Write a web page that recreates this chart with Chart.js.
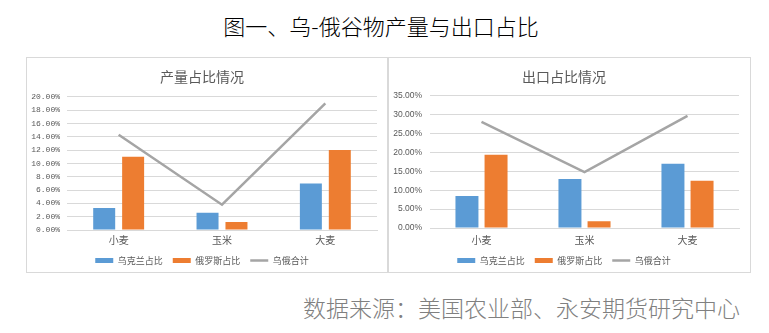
<!DOCTYPE html>
<html>
<head>
<meta charset="utf-8">
<script src="https://cdn.jsdelivr.net/npm/chart.js@4"></script>
<style>
  body { margin: 0; background: #fff; width: 769px; height: 333px; overflow: hidden; position: relative;
         font-family: "Noto Sans CJK SC", "Noto Sans", sans-serif; }
  #title { position: absolute; left: 0; width: 762px; top: 10px; text-align: center; font-size: 22px; font-weight: 300; color: #000; line-height: 30px; }
  .panel { position: absolute; top: 57px; height: 216px; border: 1px solid #d9d9d9; box-sizing: border-box; background: #fff; }
  .panel canvas { position: absolute; left: 0; top: 0; }
  #source { position: absolute; left: 303px; top: 292px; font-size: 23px; font-weight: 300; color: #808080; line-height: 30px; white-space: nowrap; }
</style>
</head>
<body>
<div id="title">图一、乌-俄谷物产量与出口占比</div>
<div class="panel" style="left:26px;width:362px;"><canvas id="prodChart" width="360" height="217"></canvas></div>
<div class="panel" style="left:388px;width:363px;"><canvas id="exportChart" width="362" height="217"></canvas></div>
<div id="source">数据来源：美国农业部、永安期货研究中心</div>

<script>
var categories = ['小麦', '玉米', '大麦'];
var seriesNames = ['乌克兰占比', '俄罗斯占比', '乌俄合计'];

// production share, %
var prodUkraine = [3.3, 2.6, 7.0];
var prodRussia = [11.0, 1.2, 12.0];
var prodTotal = [14.3, 3.8, 19.0];

// export share, %
var exportUkraine = [8.5, 13.0, 17.0];
var exportRussia = [19.4, 1.8, 12.5];
var exportTotal = [28.1, 14.8, 29.7];

var blue = '#5b9bd5', orange = '#ed7d31', gray = '#a5a5a5';

// bars get a flat swatch, the total gets a short line
function legendLabels(chart) {
  var items = Chart.defaults.plugins.legend.labels.generateLabels(chart);
  items.forEach(function(item){
    if (item.datasetIndex < 2) {
      item.pointStyle = 'rect';
      item.lineWidth = 0;
    } else {
      item.pointStyle = 'line';
      item.strokeStyle = gray;
      item.lineWidth = 2.5;
    }
  });
  return items;
}

function makeChart(id, title, ukr, rus, total, max, step, opts) {
  var ctx = document.getElementById(id);
  return new Chart(ctx, {
    data: {
      labels: categories,
      datasets: [
        { type: 'bar', label: seriesNames[0], data: ukr, backgroundColor: blue, order: 1,
          barPercentage: opts.barPct, categoryPercentage: opts.catPct },
        { type: 'bar', label: seriesNames[1], data: rus, backgroundColor: orange, order: 1,
          barPercentage: opts.barPct, categoryPercentage: opts.catPct },
        { type: 'line', label: seriesNames[2], data: total, borderColor: gray, backgroundColor: gray,
          borderWidth: 2.5, pointRadius: 0, tension: 0, order: 0 }
      ]
    },
    options: {
      responsive: false,
      animation: false,
      layout: { padding: { left: 0, right: opts.padRight, top: 0, bottom: 0 } },
      plugins: {
        title: {
          display: true, text: title, color: '#595959',
          font: { family: '"Noto Sans CJK SC"', size: 14, weight: 'normal', lineHeight: 1.2 },
          padding: { top: 10, bottom: opts.titleBottom }
        },
        legend: {
          position: 'bottom',
          labels: {
            usePointStyle: true, pointStyleWidth: 18, boxHeight: 5, padding: 10,
            color: '#595959', font: { family: '"Noto Sans CJK SC"', size: 9 },
            generateLabels: legendLabels,
            sort: function(a, b){ return a.datasetIndex - b.datasetIndex; }
          }
        },
        tooltip: { enabled: false }
      },
      scales: {
        x: {
          grid: { display: false, drawTicks: false },
          border: { color: '#d9d9d9' },
          ticks: { color: '#595959', padding: opts.xPad, font: { family: '"Noto Sans CJK SC"', size: 10 } },
          afterFit: function(s){ s.height = opts.xHeight; }
        },
        y: {
          min: 0, max: max,
          grid: { color: '#d9d9d9', drawTicks: false },
          border: { display: false },
          ticks: {
            stepSize: step, padding: opts.yPad, color: '#595959',
            font: { family: opts.yFont, size: opts.yFontSize },
            callback: function(v){ return v.toFixed(2) + '%'; }
          },
          afterFit: function(s){ s.width = opts.yWidth; }
        }
      }
    }
  });
}

makeChart('prodChart', '产量占比情况', prodUkraine, prodRussia, prodTotal, 20, 2, {
  barPct: 0.76, catPct: 0.56, padRight: 10, titleBottom: 12, xPad: 4, xHeight: 16,
  yPad: 7, yWidth: 40, yFont: '"Liberation Mono"', yFontSize: 8
});

makeChart('exportChart', '出口占比情况', exportUkraine, exportRussia, exportTotal, 35, 5, {
  barPct: 0.79, catPct: 0.565, padRight: 12, titleBottom: 11, xPad: 6, xHeight: 18,
  yPad: 8, yWidth: 41, yFont: '"Liberation Sans"', yFontSize: 8.5
});
</script>
</body>
</html>
